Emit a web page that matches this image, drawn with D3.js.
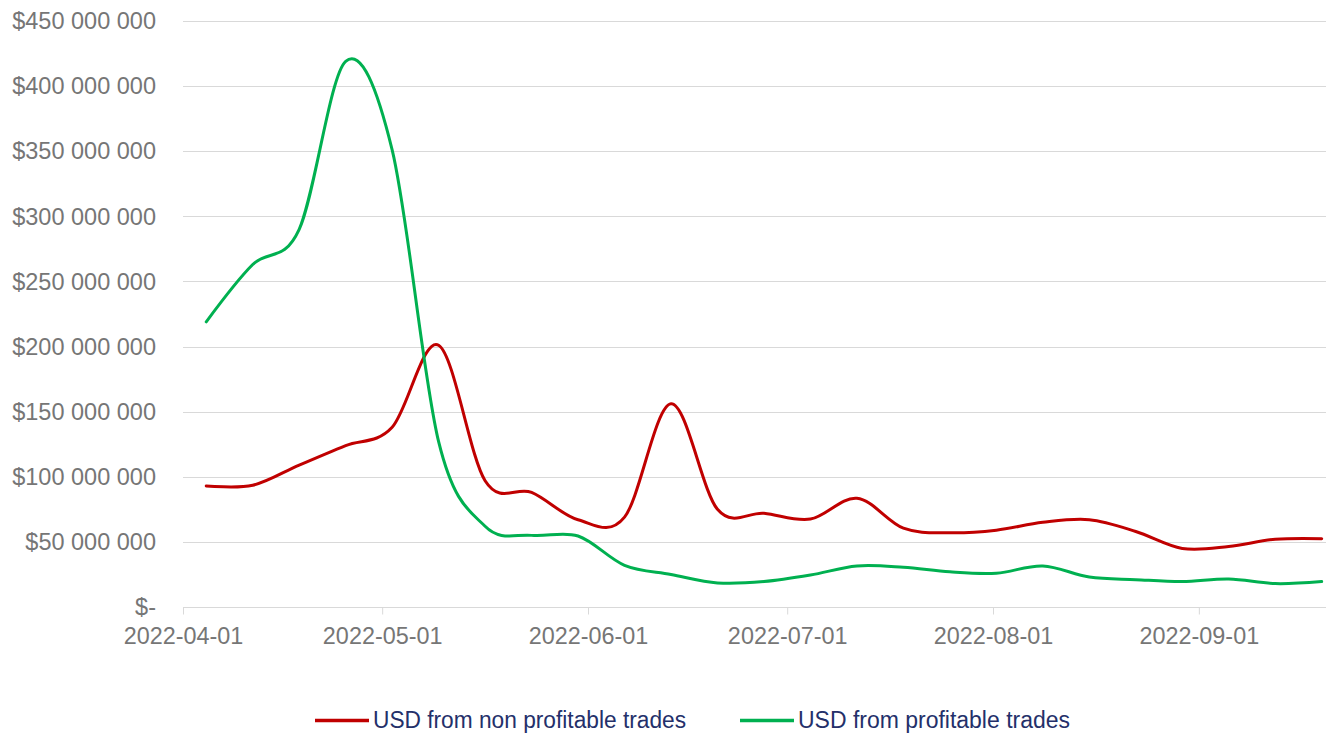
<!DOCTYPE html>
<html>
<head>
<meta charset="utf-8">
<script src="https://cdn.jsdelivr.net/npm/d3@7"></script>
<style>
  html, body { margin: 0; padding: 0; background: #fff; }
  #chart { width: 1326px; height: 734px; }
  text { font-family: "Liberation Sans", Arial, sans-serif; }
</style>
</head>
<body>
<div id="chart"></div>
<script>
// weekly points, Monday dates
const weekDates = [
  "2022-04-04", "2022-04-11", "2022-04-18", "2022-04-25", "2022-05-02",
  "2022-05-09", "2022-05-16", "2022-05-23", "2022-05-30", "2022-06-06",
  "2022-06-13", "2022-06-20", "2022-06-27", "2022-07-04", "2022-07-11",
  "2022-07-18", "2022-07-25", "2022-08-01", "2022-08-08", "2022-08-15",
  "2022-08-22", "2022-08-29", "2022-09-05", "2022-09-12", "2022-09-19"
];

// USD, millions
const nonProfitableUsd = [
  93, 93.5, 109, 124, 138,
  201, 97, 88, 67, 69,
  156, 75, 72, 67.5, 83.5,
  60.5, 57, 59, 65, 67,
  58, 45, 46.5, 52, 52.5
];

const profitableUsd = [
  219, 263, 290, 419, 351,
  127, 62, 55, 54.5, 32,
  25, 18.5, 19.5, 24.5, 31.5,
  30.5, 27, 26, 31.5, 23,
  21, 19.5, 21.5, 18, 19.5
];

const xTickLabels = ["2022-04-01", "2022-05-01", "2022-06-01", "2022-07-01", "2022-08-01", "2022-09-01"];
const yTicks = [0, 50, 100, 150, 200, 250, 300, 350, 400, 450];

const seriesNames = ["USD from non profitable trades", "USD from profitable trades"];
const seriesColors = ["#c00000", "#00b050"];

const width = 1326, height = 734;
const margin = { top: 21, right: 0, bottom: 127, left: 183 };

const parseDate = d3.timeParse("%Y-%m-%d");

const svg = d3.select("#chart").append("svg")
  .attr("width", width)
  .attr("height", height);

const x = d3.scaleTime()
  .domain([parseDate("2022-04-01"), parseDate("2022-09-20")])
  .range([margin.left, 1325]);

const y = d3.scaleLinear()
  .domain([0, 450])
  .range([height - margin.bottom, margin.top]);

const fmtUsd = v => v === 0 ? "$-" : "$" + d3.format(",")(v * 1e6).replace(/,/g, " ");

// gridlines
svg.append("g")
  .selectAll("line")
  .data(yTicks.filter(d => d > 0))
  .join("line")
  .attr("x1", margin.left)
  .attr("x2", width)
  .attr("y1", d => Math.round(y(d)) + 0.5)
  .attr("y2", d => Math.round(y(d)) + 0.5)
  .attr("stroke", "#d9d9d9")
  .attr("stroke-width", 1);

// y labels
svg.append("g")
  .selectAll("text")
  .data(yTicks)
  .join("text")
  .attr("x", 156)
  .attr("y", d => y(d))
  .attr("dy", "0.35em")
  .attr("text-anchor", "end")
  .attr("fill", "#767676")
  .style("font-size", "23.5px")
  .text(fmtUsd);

// x axis
const xAxis = d3.axisBottom(x)
  .tickValues(xTickLabels.map(parseDate))
  .tickFormat(d3.timeFormat("%Y-%m-%d"))
  .tickSize(7)
  .tickPadding(13);

const xAxisG = svg.append("g")
  .attr("transform", `translate(0,${Math.round(y(0)) + 0.5})`)
  .call(xAxis);

xAxisG.select(".domain").attr("stroke", "#d9d9d9").attr("d", `M${margin.left},0H${width}`);
xAxisG.selectAll(".tick line").attr("stroke", "#d9d9d9");
xAxisG.selectAll(".tick text")
  .attr("fill", "#767676")
  .style("font-size", "23.4px")
  .style("font-family", "'Liberation Sans', Arial, sans-serif");

// lines (points sit in the middle of their day slot)
const line = d3.line()
  .x(d => x(d3.timeHour.offset(parseDate(d.date), 12)))
  .y(d => y(d.value))
  .curve(d3.curveCatmullRom.alpha(0));

[nonProfitableUsd, profitableUsd].forEach((values, i) => {
  const data = weekDates.map((date, j) => ({ date: date, value: values[j] }));
  svg.append("path")
    .datum(data)
    .attr("fill", "none")
    .attr("stroke", seriesColors[i])
    .attr("stroke-width", 3)
    .attr("stroke-linejoin", "round")
    .attr("stroke-linecap", "round")
    .attr("d", line);
});

// legend
const legendItems = [
  { x: 315, textWidth: 313 },
  { x: 740, textWidth: 272 }
];
const legend = svg.append("g").attr("class", "legend");
legendItems.forEach((item, i) => {
  legend.append("line")
    .attr("x1", item.x)
    .attr("x2", item.x + 54)
    .attr("y1", 720.5)
    .attr("y2", 720.5)
    .attr("stroke", seriesColors[i])
    .attr("stroke-width", 3.5);
  legend.append("text")
    .attr("x", item.x + 58)
    .attr("y", 728)
    .attr("fill", "#24306a")
    .attr("textLength", item.textWidth)
    .attr("lengthAdjust", "spacingAndGlyphs")
    .style("font-size", "23px")
    .style("font-family", "'Liberation Sans Narrow', 'Arial Narrow', 'Liberation Sans', sans-serif")
    .text(seriesNames[i]);
});
</script>
</body>
</html>
